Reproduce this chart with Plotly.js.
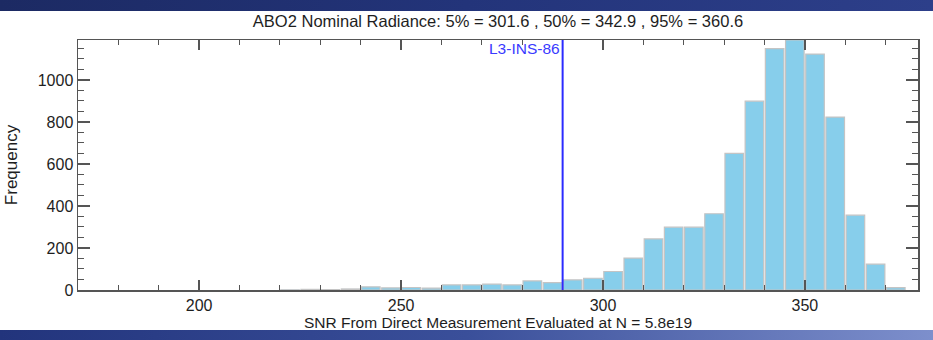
<!DOCTYPE html>
<html>
<head>
<meta charset="utf-8">
<script src="https://cdn.plot.ly/plotly-3.0.1.min.js"></script>
<style>
  html, body { margin: 0; padding: 0; background: #ffffff; }
  #wrap { position: relative; width: 933px; height: 340px; overflow: hidden; }
  #plot { position: absolute; left: 0; top: 0; width: 933px; height: 340px; }
  .band { position: absolute; left: 0; width: 933px; pointer-events: none; }
  #topband { top: 0; height: 11px; background: linear-gradient(90deg, #1c2a63 0%, #23347a 50%, #2d3f8a 100%); }
  #botband { top: 330px; height: 10px; background: linear-gradient(90deg, #22347c 0%, #3a4f9a 50%, #7d8fcc 100%); }
</style>
</head>
<body>
<div id="wrap">
  <div id="plot"></div>
  <div class="band" id="topband"></div>
  <div class="band" id="botband"></div>
</div>
<script>
// Histogram bins (bin centres, width 5) and counts
const binCenters = [222.5, 227.5, 232.5, 237.5, 242.5, 247.5, 252.5, 257.5, 262.5, 267.5,
                    272.5, 277.5, 282.5, 287.5, 292.5, 297.5, 302.5, 307.5, 312.5, 317.5,
                    322.5, 327.5, 332.5, 337.5, 342.5, 347.5, 352.5, 357.5, 362.5, 367.5, 372.5];
const counts = [1, 3, 2, 5, 15, 10, 12, 9, 24, 24,
                28, 24, 43, 35, 48, 56, 88, 152, 243, 299,
                299, 363, 650, 899, 1149, 1190, 1123, 823, 356, 123, 11];
const binWidth = 5;

const titleText = "ABO2 Nominal Radiance: 5% = 301.6 , 50% = 342.9 , 95% = 360.6";
const xTitle = "SNR From Direct Measurement Evaluated at N = 5.8e19";
const yTitle = "Frequency";
const refValue = 290;
const refLabel = "L3-INS-86";
const xTicks = [200, 250, 300, 350];
const yTicks = [0, 200, 400, 600, 800, 1000];

const FONT = "'Liberation Sans', Arial, sans-serif";
const axisColor = "#555555";
const textColor = "#1e1e1e";

const trace = {
  type: "bar",
  x: binCenters,
  y: counts,
  width: binWidth * 0.92,
  marker: { color: "#87ceeb", line: { color: "#c4c4c4", width: 1.2 } },
  hoverinfo: "x+y"
};

const layout = {
  width: 933, height: 340,
  paper_bgcolor: "#ffffff", plot_bgcolor: "#ffffff",
  margin: { l: 78, r: 15, t: 40, b: 50 },
  showlegend: false,
  font: { family: FONT, size: 16, color: textColor },
  title: {
    text: titleText,
    x: 0.5, xanchor: "center", xref: "paper",
    y: 0.938, yref: "container", yanchor: "middle",
    font: { family: FONT, size: 16.5, color: textColor }
  },
  xaxis: {
    range: [170, 378],
    tickvals: xTicks, ticktext: xTicks.map(String),
    ticks: "inside", ticklen: 10, tickwidth: 1.5, tickcolor: axisColor,
    minor: { dtick: 10, ticks: "inside", ticklen: 5, tickwidth: 1, tickcolor: axisColor, showgrid: false },
    showline: true, linecolor: axisColor, linewidth: 1.5, mirror: "allticks",
    showgrid: false, zeroline: false,
    tickfont: { family: FONT, size: 16, color: textColor },
    title: { text: xTitle, standoff: 1, font: { family: FONT, size: 15.5, color: textColor } }
  },
  yaxis: {
    range: [0, 1190],
    tickvals: yTicks, ticktext: yTicks.map(String),
    ticks: "inside", ticklen: 12, tickwidth: 1.5, tickcolor: axisColor,
    minor: { dtick: 50, ticks: "inside", ticklen: 6, tickwidth: 1, tickcolor: axisColor, showgrid: false },
    showline: true, linecolor: axisColor, linewidth: 1.5, mirror: "allticks",
    showgrid: false, zeroline: false,
    tickfont: { family: FONT, size: 16, color: textColor },
    title: { text: yTitle, standoff: 16, font: { family: FONT, size: 17, color: textColor } }
  },
  shapes: [{
    type: "line", xref: "x", yref: "paper",
    x0: refValue, x1: refValue, y0: 0, y1: 1,
    line: { color: "#2b2bff", width: 2 }
  }],
  annotations: [{
    x: refValue, xref: "x", y: 1, yref: "paper",
    xanchor: "right", yanchor: "top", showarrow: false,
    text: refLabel, xshift: -1, yshift: 2,
    font: { family: FONT, size: 15.5, color: "#3a3aff" }
  }]
};

Plotly.newPlot("plot", [trace], layout, { displayModeBar: false, staticPlot: true });
</script>
</body>
</html>
